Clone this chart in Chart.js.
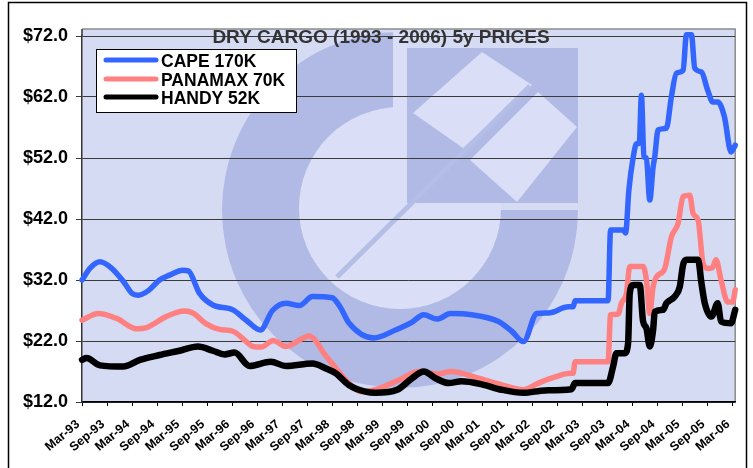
<!DOCTYPE html>
<html>
<head>
<meta charset="utf-8">
<script src="https://cdn.jsdelivr.net/npm/chart.js@4.4.1/dist/chart.umd.min.js"></script>
<style>
html,body{margin:0;padding:0;background:#fff;overflow:hidden}
#wrap{width:753px;height:468px;position:relative}
</style>
</head>
<body>
<div id="wrap"><canvas id="chart"></canvas></div>
<script>
// months counted from Mar-93
const tickLabels = ['Mar-93','Sep-93','Mar-94','Sep-94','Mar-95','Sep-95','Mar-96','Sep-96','Mar-97','Sep-97',
  'Mar-98','Sep-98','Mar-99','Sep-99','Mar-00','Sep-00','Mar-01','Sep-01','Mar-02','Sep-02',
  'Mar-03','Sep-03','Mar-04','Sep-04','Mar-05','Sep-05','Mar-06'];

const capeMonths = [0,2,4.3,7,9.9,12,13.5,16,18.6,21,24.2,25.5,28.2,31.4,36.2,39.4,42.8,45.7,48.9,52.1,55.3,60,62,64,70,75.2,79,82,85.2,88.4,93.5,99.9,103.1,105.9,109.1,111.9,116.7,117.8,118.3,126.2,126.8,129.8,130.4,131.2,132.2,133,133.7,134.2,134.8,135.4,136.2,137,137.4,138.2,140.2,141.4,142.6,144.2,145,146.2,147,148.6,150.1,151.3,152.5,154.1,155.7,156.7];
const capeValues = [32.0,34.0,35.0,34.0,31.8,29.8,29.5,30.3,32.0,32.8,33.6,33.5,29.8,27.9,27.1,25.4,23.8,27.0,28.2,27.8,29.3,29.1,27.5,25.0,22.5,23.8,25.0,26.3,25.6,26.5,26.3,25.2,23.6,21.9,26.5,26.6,27.6,27.6,28.6,28.6,40.2,40.2,39.7,46.8,52.0,54.3,54.5,62.3,52.2,52.0,45.1,50.5,52.2,56.6,56.9,62.1,65.9,66.4,72.2,72.2,66.7,66.1,63.1,61.2,61.2,58.8,53.0,54.1];

const panamaxMonths = [0,3.9,8.3,13.1,15.5,20.2,24.6,26.6,29.8,33,36.2,39.4,41,43,45.9,48.9,54.5,56.1,58,60,64,66.9,71.2,76,80.8,85.6,88.4,95.1,100.7,105.9,109.5,113.5,117.1,117.8,118.3,126.2,126.8,128.6,129.4,130.6,131.4,134.6,135.4,136.2,137,137.8,139.8,141.4,143,144.2,145.8,146.6,147.8,149,150.2,151.2,152.1,153.3,154.9,156.1,156.7];
const panamaxValues = [25.4,26.5,25.7,24.0,24.2,26.0,26.9,26.6,24.8,23.9,23.6,21.9,21.1,21.0,22.1,21.1,22.8,22.0,20.0,18.3,15.1,13.7,14.2,15.6,17.0,16.6,17.0,15.9,14.8,14.0,15.1,16.1,16.7,16.7,18.6,18.6,26.3,26.4,28.2,29.8,34.2,34.2,32.0,26.5,30.9,32.5,33.9,39.1,41.3,45.7,45.9,42.9,41.8,34.7,33.9,34.0,35.3,32.0,28.4,28.4,30.4];

const handyMonths = [0,1.1,4.3,9.9,13.9,18.6,23.4,27.8,31.4,34.2,36.6,40.2,45.3,48.9,55.3,58.5,60.9,64,68,70.4,75.6,79.2,82,84.8,88,91.1,95.9,100.7,105.9,111.1,117.4,118.3,126.2,127.4,128.2,130.2,131,131.4,132.2,133.8,134.6,135.4,136.2,137,137.4,139.4,140.2,142.2,143.4,144.2,145,147.8,148.6,149.4,151,152.5,153.3,155.7,156.7];
const handyValues = [18.9,19.2,18.0,17.8,18.9,19.7,20.4,21.1,20.4,19.8,20.1,17.9,18.6,17.9,18.3,17.5,16.7,14.8,13.7,13.5,14.0,15.9,17.0,15.9,15.1,15.4,14.9,14.0,13.5,13.9,14.1,15.1,15.1,17.8,20.0,20.0,21.6,29.8,31.2,31.2,25.2,24.1,21.1,23.8,26.8,27.1,28.2,29.3,30.9,34.5,35.3,35.3,31.5,28.2,26.0,28.2,25.2,24.9,27.1];

const seriesNames = ['CAPE 170K','PANAMAX 70K','HANDY 52K'];
const seriesColors = ['#3366FF','#FF8080','#000000'];
const tickMonths = tickLabels.map((_, i) => i * 6);

function pts(xs, ys){ return xs.map((x, i) => ({x: x, y: ys[i]})); }

const FONT = '"Liberation Sans", Arial, sans-serif';

const backdrop = {
  id: 'backdrop',
  beforeDraw(chart){
    const ctx = chart.ctx, ca = chart.chartArea;
    ctx.save();
    ctx.fillStyle = '#fff';
    ctx.fillRect(0, 0, chart.width, chart.height);
    // outer frame
    ctx.strokeStyle = '#000';
    ctx.lineWidth = 1.5;
    ctx.strokeRect(8.5, 2.5, 738, 480);
    // plot area
    const top = ca.top - 7;
    ctx.fillStyle = '#D6DBF4';
    ctx.fillRect(ca.left, top, ca.right - ca.left, ca.bottom - top);
    ctx.beginPath();
    ctx.rect(ca.left, top, ca.right - ca.left, ca.bottom - top);
    ctx.clip();
    // watermark logo
    const cx = 400, cy = 210;
    ctx.fillStyle = '#B0BAE5';
    ctx.beginPath();
    ctx.moveTo(cx, cy);
    ctx.arc(cx, cy, 178, 0, 1.5 * Math.PI, false);
    ctx.closePath();
    ctx.fill();
    ctx.fillStyle = '#DADFF7';
    ctx.beginPath();
    ctx.arc(cx, cy - 2, 101, 0, 2 * Math.PI);
    ctx.fill();
    ctx.fillRect(393, 30, 14, 90);
    ctx.fillStyle = '#B0BAE5';
    ctx.fillRect(407, 48, 171, 155);
    ctx.fillStyle = '#DADFF7';
    ctx.beginPath();
    ctx.moveTo(413, 113); ctx.lineTo(482, 52); ctx.lineTo(532, 85); ctx.lineTo(463, 148);
    ctx.closePath(); ctx.fill();
    ctx.beginPath();
    ctx.moveTo(470, 160); ctx.lineTo(538, 92); ctx.lineTo(577, 127); ctx.lineTo(517, 202);
    ctx.closePath(); ctx.fill();
    ctx.strokeStyle = '#B4BEE6';
    ctx.lineWidth = 5;
    ctx.beginPath();
    ctx.moveTo(337, 277); ctx.lineTo(530, 86);
    ctx.stroke();
    ctx.restore();
    // plot border (top/right)
    ctx.save();
    ctx.strokeStyle = '#8C8C8C';
    ctx.lineWidth = 1.5;
    ctx.beginPath();
    ctx.moveTo(ca.left, top); ctx.lineTo(ca.right, top); ctx.lineTo(ca.right, ca.bottom);
    ctx.stroke();
    ctx.strokeStyle = '#333';
    ctx.beginPath();
    ctx.moveTo(ca.left, top); ctx.lineTo(ca.left, ca.top);
    ctx.stroke();
    ctx.restore();
  }
};

const overlay = {
  id: 'overlay',
  afterDraw(chart){
    const ctx = chart.ctx;
    ctx.save();
    // title
    ctx.font = 'bold 19px ' + FONT;
    ctx.fillStyle = '#333';
    ctx.textAlign = 'center';
    ctx.textBaseline = 'alphabetic';
    ctx.fillText('DRY CARGO (1993 - 2006) 5y PRICES', 381, 43);
    // legend
    ctx.fillStyle = '#fff';
    ctx.fillRect(96, 49, 200, 63);
    ctx.strokeStyle = '#000';
    ctx.lineWidth = 1;
    ctx.strokeRect(96.5, 49.5, 200, 63);
    ctx.font = 'bold 17.5px ' + FONT;
    ctx.textAlign = 'left';
    const rows = [60, 79, 97];
    seriesNames.forEach((name, i) => {
      ctx.strokeStyle = seriesColors[i];
      ctx.lineWidth = 5;
      ctx.lineCap = 'round';
      ctx.beginPath();
      ctx.moveTo(106, rows[i]); ctx.lineTo(156, rows[i]);
      ctx.stroke();
      ctx.fillStyle = '#000';
      ctx.fillText(name, 161, rows[i] + 7);
    });
    ctx.restore();
  }
};

const lineOpts = {pointRadius: 0, cubicInterpolationMode: 'monotone', borderCapStyle: 'round', borderJoinStyle: 'round', clip: false, fill: false};

new Chart(document.getElementById('chart'), {
  type: 'line',
  data: {
    datasets: [
      Object.assign({label: seriesNames[0], data: pts(capeMonths, capeValues), borderColor: seriesColors[0], borderWidth: 5.5, order: 3}, lineOpts),
      Object.assign({label: seriesNames[1], data: pts(panamaxMonths, panamaxValues), borderColor: seriesColors[1], borderWidth: 5.5, order: 2}, lineOpts),
      Object.assign({label: seriesNames[2], data: pts(handyMonths, handyValues), borderColor: seriesColors[2], borderWidth: 6.5, order: 1}, lineOpts)
    ]
  },
  options: {
    responsive: true,
    maintainAspectRatio: false,
    animation: false,
    layout: {padding: {left: 0, top: 36, right: 15, bottom: 0}},
    plugins: {legend: {display: false}, tooltip: {enabled: false}},
    scales: {
      x: {
        type: 'linear',
        min: 0,
        max: 156.7,
        afterBuildTicks: s => { s.ticks = tickMonths.map(v => ({value: v})); },
        afterFit: s => { s.height = 66; },
        ticks: {
          autoSkip: false,
          minRotation: 40,
          maxRotation: 40,
          padding: 11,
          labelOffset: -4,
          color: '#000',
          font: {family: FONT, size: 12.5, weight: 'bold'},
          callback: (v, i) => tickLabels[i]
        },
        grid: {drawOnChartArea: false, drawTicks: true, tickLength: 4, color: '#000', lineWidth: 1},
        border: {display: true, color: '#000', width: 1.5}
      },
      y: {
        min: 12,
        max: 72,
        afterFit: s => { s.width = 82; },
        ticks: {
          stepSize: 10,
          padding: 8,
          color: '#000',
          font: {family: FONT, size: 18, weight: 'bold'},
          callback: v => '$' + Number(v).toFixed(1)
        },
        grid: {color: '#3A3A3A', lineWidth: 1, tickLength: 6},
        border: {display: true, color: '#333', width: 1.5}
      }
    }
  },
  plugins: [backdrop, overlay]
});
</script>
</body>
</html>
